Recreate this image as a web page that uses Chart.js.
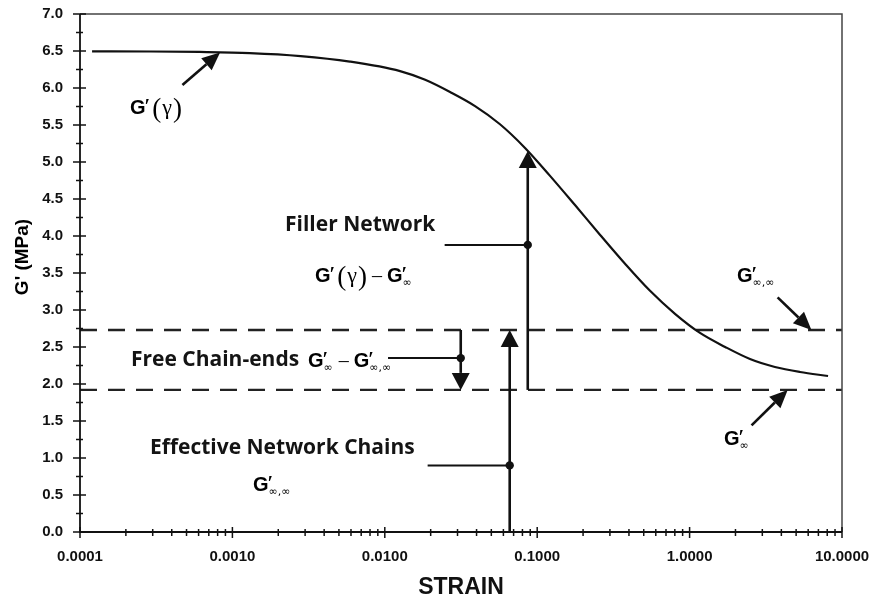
<!DOCTYPE html>
<html>
<head>
<meta charset="utf-8">
<script src="https://cdn.jsdelivr.net/npm/chart.js@4.4.1/dist/chart.umd.min.js"></script>
<style>
html,body{margin:0;padding:0;background:#fff;}
#wrap{width:874px;height:602px;}
</style>
</head>
<body>
<div id="wrap"><canvas id="chart" width="874" height="602"></canvas></div>
<script>

const strain = [0.00012, 0.00029, 0.00061, 0.0013, 0.0028, 0.0059, 0.0126, 0.0184, 0.0268, 0.0391, 0.057, 0.0832, 0.121, 0.177, 0.258, 0.377, 0.55, 0.802, 1.17, 1.71, 2.49, 3.63, 5.3, 8.1];
const gPrime = [6.495, 6.493, 6.487, 6.472, 6.432, 6.357, 6.228, 6.11, 5.945, 5.755, 5.51, 5.19, 4.816, 4.418, 4.018, 3.625, 3.259, 2.948, 2.69, 2.501, 2.338, 2.23, 2.162, 2.108];

const gInf = 1.92;
const gInfInf = 2.73;

const xTicks = [0.0001, 0.001, 0.01, 0.1, 1, 10];
const yMin = 0, yMax = 7, yStep = 0.5;

// arrows: [x1, y1, x2, y2] in data units, head at (x2, y2)
const arrows = [
[0.00047, 6.04, 0.00083, 6.48],
[3.78, 3.17, 6.3, 2.73],
[2.55, 1.44, 4.4, 1.92],
[0.0867, 1.92, 0.0867, 5.15],
[0.066, 0, 0.066, 2.73],
[0.0315, 2.73, 0.0315, 1.92]
];

// leaders: [xStart, xDot, y]
const leaders = [
[0.0247, 0.0867, 3.88],
[0.0191, 0.066, 0.9],
[0.0105, 0.0315, 2.35]
];


const ink = "#111";

function drawG(ctx, x, y, sub, size){
ctx.font = "bold " + size + "px 'Liberation Sans'";
ctx.fillText("G", x, y);
let w = ctx.measureText("G").width;
ctx.font = "bold " + (size*1.0) + "px 'Liberation Serif'";
ctx.fillText("\u2032", x + w - 1, y - 1);
let pw = ctx.measureText("\u2032").width;
let sw = 0;
if(sub){
ctx.font = (size*0.55) + "px 'DejaVu Sans'";
ctx.fillText(sub, x + w, y + 4);
sw = ctx.measureText(sub).width;
}
return w + Math.max(pw, sw + 1);
}

function drawGamma(ctx, x, y, size){
ctx.font = (size*1.35) + "px 'Liberation Serif'";
ctx.fillText("(", x, y + 3);
let w = ctx.measureText("(").width;
ctx.font = (size*1.1) + "px 'Liberation Serif'";
ctx.fillText("\u03b3", x + w + 1, y);
w += ctx.measureText("\u03b3").width + 2;
ctx.font = (size*1.35) + "px 'Liberation Serif'";
ctx.fillText(")", x + w, y + 3);
return w + ctx.measureText(")").width;
}

function drawMinus(ctx, x, y, size){
ctx.font = size + "px 'Liberation Serif'";
ctx.fillText(" \u2013 ", x, y);
return ctx.measureText(" \u2013 ").width;
}

function head(ctx, x1, y1, x2, y2, len, half){
let a = Math.atan2(y2 - y1, x2 - x1);
let bx = x2 - len*Math.cos(a), by = y2 - len*Math.sin(a);
ctx.beginPath();
ctx.moveTo(x2, y2);
ctx.lineTo(bx + half*Math.sin(a), by - half*Math.cos(a));
ctx.lineTo(bx - half*Math.sin(a), by + half*Math.cos(a));
ctx.closePath();
ctx.fill();
return [bx, by];
}

const decor = {
id: "decor",
afterDatasetsDraw(chart){
const ctx = chart.ctx;
const xs = chart.scales.x, ys = chart.scales.y;
const a = chart.chartArea;
ctx.save();
ctx.strokeStyle = ink;
ctx.fillStyle = ink;

// frame
ctx.lineWidth = 1.5;
ctx.strokeStyle = "#444";
ctx.beginPath();
ctx.moveTo(a.left, a.top); ctx.lineTo(a.right, a.top); ctx.lineTo(a.right, a.bottom);
ctx.stroke();
ctx.strokeStyle = ink;
ctx.lineWidth = 1.8;
ctx.beginPath();
ctx.moveTo(a.left, a.top); ctx.lineTo(a.left, a.bottom); ctx.lineTo(a.right, a.bottom);
ctx.stroke();

// y ticks
ctx.lineWidth = 1.5;
for(let v = yMin; v <= yMax + 1e-9; v += yStep/2){
let py = ys.getPixelForValue(v);
let major = Math.abs(v/yStep - Math.round(v/yStep)) < 1e-6;
ctx.beginPath();
ctx.moveTo(a.left - (major ? 7 : 4), py);
ctx.lineTo(a.left + (major ? 6 : 3), py);
ctx.stroke();
}

// x ticks
for(let d = 0; d < xTicks.length; d++){
let base = xTicks[d];
let px = xs.getPixelForValue(base);
ctx.beginPath(); ctx.moveTo(px, a.bottom - 5); ctx.lineTo(px, a.bottom + 6); ctx.stroke();
if(d == xTicks.length - 1) break;
for(let k = 2; k <= 9; k++){
px = xs.getPixelForValue(base*k);
ctx.beginPath(); ctx.moveTo(px, a.bottom - 3); ctx.lineTo(px, a.bottom + 4); ctx.stroke();
}
}

// arrows
arrows.forEach(r=>{
let x1 = xs.getPixelForValue(r[0]), y1 = ys.getPixelForValue(r[1]);
let x2 = xs.getPixelForValue(r[2]), y2 = ys.getPixelForValue(r[3]);
let vertical = r[0] == r[2];
let b = head(ctx, x1, y1, x2, y2, vertical ? 17 : 18, vertical ? 9 : 8);
ctx.lineWidth = 2.6;
ctx.beginPath(); ctx.moveTo(x1, y1); ctx.lineTo(b[0], b[1]); ctx.stroke();
});

// leaders with dots
leaders.forEach(l=>{
let x1 = xs.getPixelForValue(l[0]), x2 = xs.getPixelForValue(l[1]), py = ys.getPixelForValue(l[2]);
ctx.lineWidth = 2;
ctx.beginPath(); ctx.moveTo(x1, py); ctx.lineTo(x2, py); ctx.stroke();
ctx.beginPath(); ctx.arc(x2, py, 4.2, 0, Math.PI*2); ctx.fill();
});

// labels
ctx.textBaseline = "alphabetic";
ctx.textAlign = "left";
ctx.fillStyle = "#000";

let x = 130;
x += drawG(ctx, x, 114, null, 20);
drawGamma(ctx, x + 1, 114, 20);

ctx.fillStyle = "#141414";
ctx.font = "bold 21px 'Open Sans'";
ctx.fillText("Filler Network", 285, 231);
ctx.fillText("Free Chain-ends", 131, 366);
ctx.fillText("Effective Network Chains", 150, 454);

ctx.fillStyle = "#000";
x = 315;
x += drawG(ctx, x, 282, null, 20);
x += drawGamma(ctx, x + 1, 282, 20) + 1;
x += drawMinus(ctx, x, 282, 20);
drawG(ctx, x, 282, "\u221e", 20);

x = 308;
x += drawG(ctx, x, 367, "\u221e", 20);
x += drawMinus(ctx, x, 367, 20);
drawG(ctx, x, 367, "\u221e,\u221e", 20);

drawG(ctx, 253, 491, "\u221e,\u221e", 20);
drawG(ctx, 737, 282, "\u221e,\u221e", 20);
drawG(ctx, 724, 445, "\u221e", 20);

// y axis title
ctx.save();
ctx.translate(23, 257);
ctx.rotate(-Math.PI/2);
ctx.textAlign = "center";
ctx.textBaseline = "middle";
ctx.font = "bold 19px 'Liberation Sans'";
ctx.fillText("G' (MPa)", 0, 0);
ctx.restore();

ctx.restore();
}
};


const curve = strain.map((s,i)=>({x:s, y:gPrime[i]}));
const upper = [{x:xTicks[0], y:gInfInf}, {x:xTicks[xTicks.length-1], y:gInfInf}];
const lower = [{x:xTicks[0], y:gInf}, {x:xTicks[xTicks.length-1], y:gInf}];

new Chart(document.getElementById("chart"),{

type:"line",

data:{
datasets:[
{data:curve, borderColor:ink, borderWidth:2.2, pointRadius:0, cubicInterpolationMode:"monotone", fill:false},
{data:upper, borderColor:"#222", borderWidth:2.4, borderDash:[17,11], pointRadius:0},
{data:lower, borderColor:"#222", borderWidth:2.4, borderDash:[17,11], pointRadius:0}
]
},

options:{
responsive:false,
animation:false,
layout:{padding:{top:14, right:32, left:0, bottom:0}},
plugins:{legend:{display:false}, tooltip:{enabled:false}},
scales:{
x:{
type:"logarithmic",
min:xTicks[0],
max:xTicks[xTicks.length-1],
afterBuildTicks:(s)=>{ s.ticks = xTicks.map(v=>({value:v, major:true})); },
afterFit:(s)=>{ s.height = 70; s.paddingLeft = 0; s.paddingRight = 0; },
grid:{display:false},
border:{display:false},
ticks:{
autoSkip:false,
maxRotation:0,
padding:8,
color:"#111",
font:{family:"'Liberation Sans'", size:15, weight:"bold"},
callback:(v)=>Number(v).toFixed(4)
},
title:{
display:true,
text:"STRAIN",
color:"#111",
font:{family:"'Liberation Sans'", size:23, weight:"bold"},
padding:{top:4, bottom:1}
}
},
y:{
min:yMin,
max:yMax,
afterFit:(s)=>{ s.width = 80; s.paddingTop = 0; s.paddingBottom = 0; },
grid:{display:false},
border:{display:false},
ticks:{
stepSize:yStep,
padding:9,
color:"#111",
font:{family:"'Liberation Sans'", size:15, weight:"bold"},
callback:(v)=>Number(v).toFixed(1)
}
}
}
},

plugins:[decor]

});

</script>
</body>
</html>
